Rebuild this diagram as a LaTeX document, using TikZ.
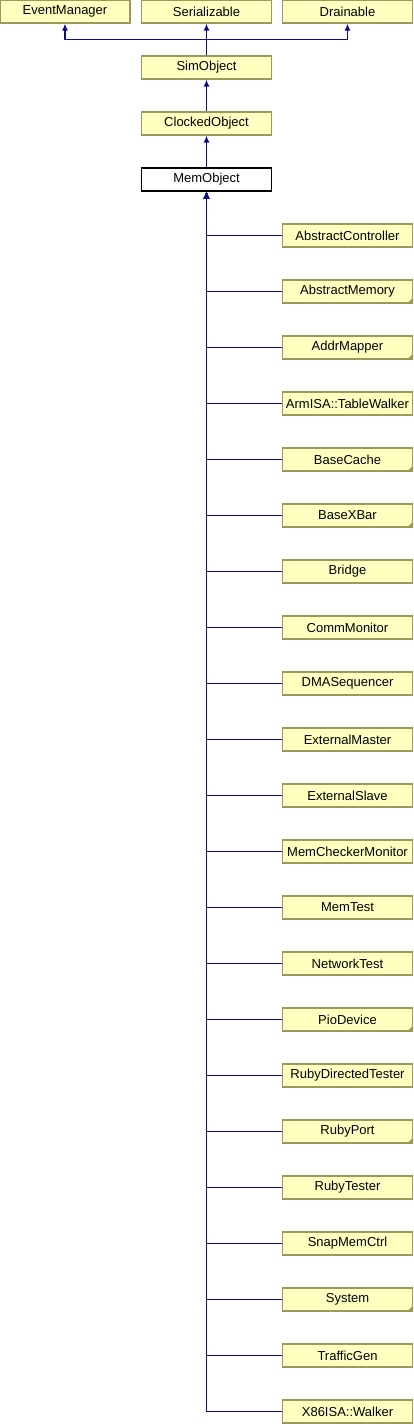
\documentclass[tikz,border=0pt]{standalone}
\usepackage{xcolor}
\usepackage{tikz}
\usepackage{fontspec}
\setmainfont{Liberation Sans}
\usetikzlibrary{arrows.meta}
\definecolor{clsFill}{HTML}{FFFFC0}
\definecolor{clsLine}{HTML}{9A9A5A}
\definecolor{inhBlue}{HTML}{0A0A96}

\begin{document}
\begin{tikzpicture}[x=1pt,y=-1pt,
    cls/.style={draw=clsLine,fill=clsFill,line width=1.2pt,minimum width=130pt,
    minimum height=23pt,inner sep=0pt,font=\fontsize{13}{15}\selectfont},
    cur/.style={cls,draw=black,fill=white},
    inh/.style={draw=inhBlue,line width=1.3pt,-{Latex[length=7pt,width=6pt]}}]
    \useasboundingbox(0,0)rectangle(413,1424);
    \node[cls](evt)at(65,11.5){EventManager};
    \node[cls](ser)at(206.5,11.5){Serializable};
    \node[cls](drn)at(347.5,11.5){Drainable};
    \node[cls](sim)at(206.5,67.5){SimObject};
    \node[cls](clk)at(206.5,123.5){ClockedObject};
    \node[cur](mem)at(206.5,179.5){MemObject};
    \draw[inh](sim)--(ser);
    \draw[inh](sim.north)--++(0,-16)-|(evt);
    \draw[inh](sim.north)--++(0,-16)-|(drn);
    \draw[inh](clk)--(sim);
    \draw[inh](mem)--(clk);
    \foreach \nm/\txt/\fl[count=\i from 0] in {actrl/AbstractController/0,
        amem/AbstractMemory/1,amap/AddrMapper/1,atw/ArmISA::TableWalker/0,
        bcache/BaseCache/1,bxbar/BaseXBar/1,brg/Bridge/0,cmon/CommMonitor/0,
        dmaseq/DMASequencer/0,extm/ExternalMaster/0,exts/ExternalSlave/0,
        mcmon/MemCheckerMonitor/0,mtest/MemTest/0,ntest/NetworkTest/0,
        pio/PioDevice/1,rdt/RubyDirectedTester/0,rport/RubyPort/1,
        rtest/RubyTester/0,snap/SnapMemCtrl/0,sys/System/1,tgen/TrafficGen/0,
        xwalk/X86ISA::Walker/0}{
        \node[cls](\nm)at(347.5,235.5+56*\i){\txt};
        \ifnum\fl=1
            \fill[clsLine](\nm.south east)--++(-6,0)--++(6,-6)--cycle;
        \fi
        \draw[inh](\nm.west)-|(mem.south);
    }
\end{tikzpicture}
\end{document}
